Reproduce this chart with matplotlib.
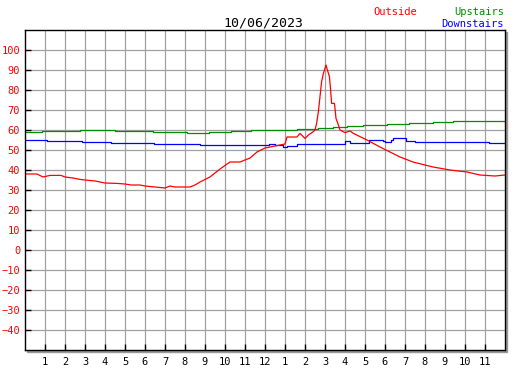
import matplotlib
matplotlib.use("Agg")
import matplotlib.pyplot as plt
from matplotlib.patches import Rectangle

# Outside temperature (hour of day, value)
out_h = [0, 0.6, 0.9, 1.25, 1.8, 2.0, 2.4, 2.75, 3.0, 3.5, 3.75, 4.0, 4.6, 5.0, 5.3, 5.75,
         6.0, 6.5, 7.0, 7.25, 7.5, 8.25, 8.5, 8.75, 9.25, 9.75, 10.25, 10.75, 11.25, 11.6,
         12.0, 12.75, 13.0, 13.1, 13.6, 13.75, 14.0, 14.17, 14.42, 14.5, 14.58, 14.67,
         14.75, 14.83, 14.92, 15.0, 15.05, 15.12, 15.22, 15.28, 15.33, 15.47, 15.5, 15.55,
         15.67, 15.75, 16.0, 16.25, 16.42, 17.1, 17.75, 18.75, 19.4, 20.4, 21.25, 22.1,
         22.75, 23.5, 24.0]
out_v = [38, 38, 36.5, 37.3, 37.3, 36.5, 36, 35.3, 35, 34.5, 34, 33.5, 33.3, 33, 32.5, 32.5,
         32, 31.5, 31, 32, 31.5, 31.5, 32.5, 34, 36.5, 40.5, 44, 44, 46, 49,
         51, 52.5, 53, 56.5, 56.5, 58.3, 55.8, 57.5, 59.2, 60, 63.3, 69.2,
         76.7, 84.2, 88.3, 90.8, 92.5, 90, 86.7, 80, 73.3, 73.3, 70.8, 65.8,
         62.5, 60, 58.7, 59.5, 58.3, 55, 51.5, 46.5, 44, 41.5, 40, 39,
         37.5, 37, 37.5]

# Upstairs (step changes)
up_h = [0, 0.85, 2.75, 4.5, 6.4, 8.1, 9.2, 10.3, 11.3, 13.6, 14.67, 15.4, 16.1, 16.9,
        18.1, 19.2, 20.4, 21.4, 24]
up_v = [59, 59.5, 60, 59.5, 59, 58.5, 59, 59.5, 60, 60.3, 60.8, 61.7, 62, 62.5,
        63, 63.7, 64.2, 64.5, 64.5]

# Downstairs (step changes)
down_h = [0, 1.08, 2.87, 4.3, 6.45, 8.75, 12.2, 12.5, 12.9, 13.1, 13.6, 16.0, 16.25,
          17.2, 17.9, 18.0, 18.3, 18.4, 19.05, 19.5, 23.2, 24]
down_v = [55, 54.5, 53.8, 53.3, 53, 52.5, 52.8, 52.3, 51.7, 52.2, 53, 54.5, 53.3,
          55, 54.6, 54.2, 55, 55.8, 54.7, 54, 53.3, 53.3]

hour_labels = [str(h) for h in range(1, 12)] + ["12"] + [str(h) for h in range(1, 12)]
y_ticks = list(range(-40, 101, 10))

W, H = 527, 370
fig = plt.figure(figsize=(W / 100, H / 100), dpi=100)
plt.rcParams['font.family'] = ['DejaVu Sans Mono']

left, top, right, bottom = 25, 30, 505, 350
ax = fig.add_axes([left / W, 1 - bottom / H, (right - left) / W, (bottom - top) / H])

# gray drop shadow
fig.patches.append(Rectangle(((left + 2) / W, 1 - (bottom + 2) / H),
                             (right - left) / W, (bottom - top) / H,
                             transform=fig.transFigure, color="#999999", zorder=0))
ax.set_zorder(1)

ax.plot(up_h, up_v, color="#008c00", lw=0.9, drawstyle="steps-post")
ax.plot(down_h, down_v, color="#0000ff", lw=0.9, drawstyle="steps-post")
ax.plot(out_h, out_v, color="#ff0000", lw=0.9)

ax.set_xlim(0, 24)
ax.set_ylim(-50, 110)
ax.set_xticks(range(1, 24))
ax.set_xticklabels(hour_labels)
ax.set_yticks(y_ticks)
ax.grid(True, color="#a0a0a0", lw=0.9)
ax.set_axisbelow(True)
for s in ax.spines.values():
    s.set_linewidth(1)
    s.set_color("black")
ax.tick_params(direction="in", length=4, width=1, labelsize=7.5)
ax.tick_params(axis="y", colors="black", labelcolor="#ff0000", pad=3.5)
ax.tick_params(axis="x", pad=5)

fig.text(263 / W, 1 - 26 / H, "10/06/2023", ha="center", va="baseline", fontsize=9.5)
fig.text(373 / W, 1 - 15 / H, "Outside", ha="left", va="baseline", fontsize=7.5, color="#ff0000")
fig.text(504 / W, 1 - 15 / H, "Upstairs", ha="right", va="baseline", fontsize=7.5, color="#008c00")
fig.text(504 / W, 1 - 27 / H, "Downstairs", ha="right", va="baseline", fontsize=7.5, color="#0000ff")

fig.savefig("out.png", dpi=100)
